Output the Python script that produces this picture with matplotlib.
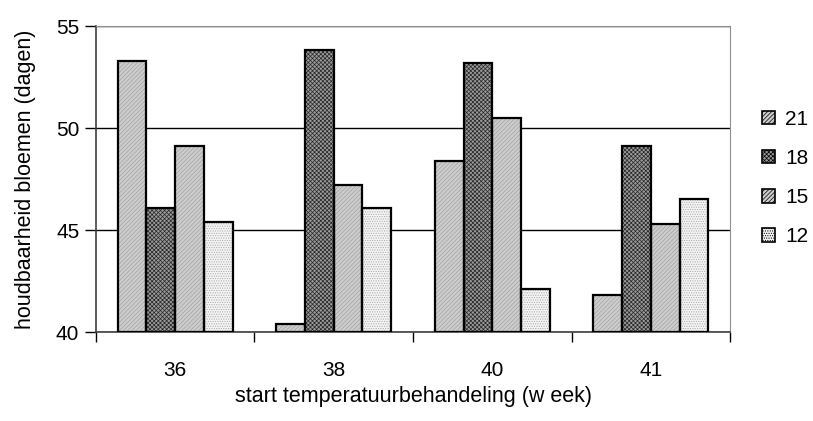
import numpy as np
import matplotlib.pyplot as plt
from matplotlib.patches import Patch

plt.rcParams['font.family'] = ['Liberation Sans', 'DejaVu Sans']
plt.rcParams['hatch.linewidth'] = 0.5

# data
weeks = ['36', '38', '40', '41']
series = ['21', '18', '15', '12']
v21 = [53.3, 40.4, 48.4, 41.8]
v18 = [46.1, 53.8, 53.2, 49.1]
v15 = [49.1, 47.2, 50.5, 45.3]
v12 = [45.4, 46.1, 42.1, 46.5]
values = [v21, v18, v15, v12]

# fill colour, hatch colour, hatch pattern per series
styles = [
    ('#cdcdcd', '#a2a2a2', '////////'),
    ('#9a9a9a', '#262626', 'xxxxxxxx'),
    ('#cdcdcd', '#a2a2a2', '////////'),
    ('#f4f4f4', '#a8a8a8', '.......'),
]

fig = plt.figure(figsize=(8.13, 4.21), dpi=100)
ax = fig.add_axes([0.118, 0.2114, 0.78, 0.7268])

x = np.arange(len(weeks))
width = 0.725 / 4
base = 40
for i, vals in enumerate(values):
    fc, hc, hatch = styles[i]
    pos = x - 0.725 / 2 + width * (i + 0.5)
    heights = np.array(vals) - base
    ax.bar(pos, heights, width, bottom=base, color=fc, edgecolor=hc,
           hatch=hatch, linewidth=0, zorder=3)
    ax.bar(pos, heights, width, bottom=base, fill=False, edgecolor='black',
           linewidth=1.6, zorder=4)

ax.set_xlim(-0.5, len(weeks) - 0.5)
ax.set_ylim(40, 55)
ax.set_yticks([40, 45, 50, 55])
ax.tick_params(axis='y', direction='out', length=8, width=1, labelsize=15, pad=4)

# group boundaries get the tick marks, labels sit at group centres
ax.set_xticks(np.arange(len(weeks) + 1) - 0.5)
ax.set_xticklabels([])
ax.set_xticks(x, minor=True)
ax.set_xticklabels(weeks, minor=True)
ax.tick_params(axis='x', which='major', direction='out', length=7, width=1)
ax.tick_params(axis='x', which='minor', length=0, labelsize=15, pad=21)

ax.yaxis.grid(True, color='black', linewidth=1)
ax.set_axisbelow(True)
for side in ['top', 'right']:
    ax.spines[side].set_color('#909090')
for side in ['left', 'bottom']:
    ax.spines[side].set_color('#404040')
    ax.spines[side].set_linewidth(1.2)

ax.set_ylabel('houdbaarheid bloemen (dagen)', fontsize=15.5, labelpad=14)
ax.set_xlabel('start temperatuurbehandeling (w eek)', fontsize=15.5, labelpad=4.5)

handles = []
for i, name in enumerate(series):
    fc, hc, hatch = styles[i]
    handles.append(Patch(facecolor=fc, edgecolor='black', hatch=hatch,
                         linewidth=1.2, label=name))
fig.legend(handles=handles, loc='center left', bbox_to_anchor=(0.937, 0.577),
           frameon=False, fontsize=15, borderpad=0, borderaxespad=0,
           handlelength=0.62, handleheight=0.62, handletextpad=0.5,
           labelspacing=0.97)

fig.savefig('out.png', dpi=100)
